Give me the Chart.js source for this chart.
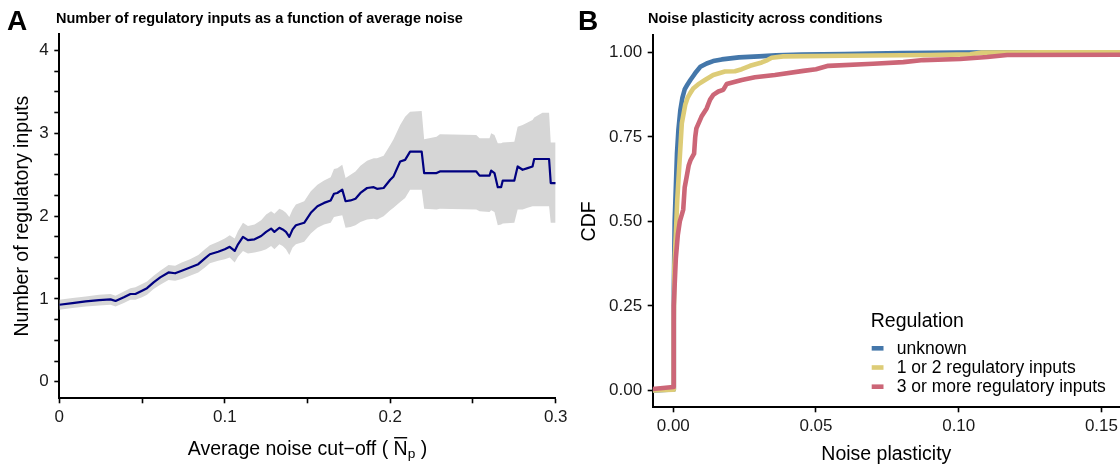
<!DOCTYPE html>
<html><head><meta charset="utf-8">
<script src="https://cdn.jsdelivr.net/npm/chart.js@4.4.1/dist/chart.umd.min.js"></script>
<style>
html,body{margin:0;padding:0;width:1120px;height:464px;overflow:hidden;background:#fff;}
#wrap{position:relative;width:1120px;height:464px;overflow:hidden;}
canvas{position:absolute;top:0;}
#cA{left:0}
#cB{left:570px}
</style></head><body>
<div id="wrap"><canvas id="cA" width="570" height="480"></canvas><canvas id="cB" width="550" height="480"></canvas></div>
<script>
const FONT = '"Liberation Sans", Arial, Helvetica, sans-serif';

// ---------- Panel A data ----------
const titleA = 'Number of regulatory inputs as a function of average noise';
const aCutoff = [0.000,0.008,0.016,0.024,0.031,0.034,0.039,0.043,0.046,0.050,0.053,0.057,0.061,0.066,0.070,0.074,0.079,0.084,0.088,0.091,0.096,0.100,0.103,0.106,0.108,0.111,0.114,0.118,0.122,0.125,0.128,0.130,0.133,0.135,0.137,0.139,0.141,0.143,0.148,0.152,0.156,0.160,0.164,0.166,0.168,0.171,0.173,0.176,0.179,0.182,0.186,0.190,0.192,0.196,0.200,0.202,0.206,0.209,0.212,0.219,0.2205,0.228,0.230,0.252,0.254,0.260,0.261,0.263,0.265,0.267,0.268,0.275,0.277,0.280,0.283,0.286,0.287,0.292,0.296,0.297,0.300];
const aMean   = [0.93,0.95,0.97,0.985,0.995,0.975,1.02,1.06,1.06,1.10,1.13,1.20,1.26,1.32,1.31,1.34,1.38,1.42,1.49,1.54,1.57,1.60,1.63,1.58,1.66,1.75,1.71,1.72,1.76,1.81,1.85,1.81,1.86,1.84,1.81,1.75,1.84,1.89,1.92,2.04,2.12,2.16,2.19,2.27,2.28,2.32,2.18,2.19,2.21,2.28,2.34,2.35,2.33,2.34,2.44,2.48,2.66,2.68,2.78,2.78,2.52,2.52,2.54,2.54,2.49,2.49,2.55,2.52,2.35,2.35,2.43,2.43,2.60,2.56,2.58,2.60,2.69,2.69,2.69,2.40,2.40];
const aLower  = [0.87,0.89,0.91,0.92,0.93,0.91,0.95,0.99,0.99,1.02,1.05,1.12,1.17,1.23,1.22,1.24,1.28,1.32,1.38,1.43,1.46,1.48,1.50,1.44,1.51,1.58,1.55,1.56,1.58,1.60,1.64,1.60,1.66,1.64,1.60,1.53,1.62,1.66,1.69,1.79,1.86,1.90,1.92,1.99,2.00,2.01,1.86,1.87,1.89,1.93,1.96,1.97,1.96,2.00,2.07,2.10,2.17,2.22,2.32,2.32,2.09,2.08,2.09,2.08,2.06,2.05,2.07,2.05,1.89,1.90,1.91,1.92,2.08,2.08,2.10,2.12,2.12,2.12,2.12,1.92,1.92];
const aUpper  = [0.99,1.01,1.03,1.05,1.06,1.04,1.09,1.13,1.14,1.18,1.21,1.28,1.34,1.41,1.40,1.44,1.48,1.53,1.60,1.65,1.69,1.73,1.77,1.73,1.82,1.92,1.88,1.90,1.95,2.02,2.06,2.03,2.09,2.07,2.04,1.99,2.08,2.14,2.18,2.30,2.38,2.43,2.47,2.57,2.58,2.62,2.46,2.50,2.54,2.61,2.67,2.70,2.70,2.73,2.86,2.93,3.10,3.20,3.26,3.27,2.93,2.96,2.99,2.98,2.94,2.94,3.00,2.98,2.88,2.88,2.89,2.90,3.08,3.10,3.13,3.16,3.19,3.25,3.25,2.89,2.89];
const aXTicks = [0,0.05,0.1,0.15,0.2,0.25,0.3];
const aXTickLabels = ['0','','0.1','','0.2','','0.3'];
const aYTicks = [0,0.25,0.5,0.75,1,1.25,1.5,1.75,2,2.25,2.5,2.75,3,3.25,3.5,3.75,4];
const aYTickLabels = ['0','','','','1','','','','2','','','','3','','','','4'];

// ---------- Panel B data ----------
const titleB = 'Noise plasticity across conditions';
const bSeriesNames = ['unknown','1 or 2 regulatory inputs','3 or more regulatory inputs'];
const bUnknownX = [-0.0072,0.0000,0.0002,0.0005,0.0009,0.0013,0.0018,0.0025,0.0032,0.0040,0.0050,0.0060,0.0070,0.0080,0.0095,0.0117,0.0140,0.0170,0.0230,0.0300,0.0360,0.0450,0.0600,0.0800,0.1000,0.1200,0.2000];
const bUnknownY = [0.000,0.003,0.300,0.500,0.600,0.700,0.770,0.830,0.865,0.890,0.905,0.918,0.930,0.942,0.957,0.967,0.974,0.979,0.985,0.988,0.991,0.993,0.995,0.998,0.999,1.000,1.000];
const bOneTwoX = [-0.0072,0.0000,0.0002,0.0004,0.0009,0.0014,0.0021,0.0030,0.0042,0.0050,0.0060,0.0070,0.0087,0.0111,0.0140,0.0181,0.0216,0.0240,0.0269,0.0310,0.0330,0.0345,0.0385,0.0600,0.0900,0.1040,0.1080,0.1300,0.2000];
const bOneTwoY = [0.000,0.002,0.200,0.370,0.460,0.563,0.662,0.790,0.845,0.865,0.880,0.893,0.905,0.918,0.933,0.943,0.944,0.950,0.960,0.970,0.977,0.984,0.988,0.990,0.992,0.994,0.999,1.000,1.000];
const bThreeX = [-0.0072,0.0000,0.0001,0.00025,0.0009,0.0016,0.0023,0.0030,0.0035,0.0040,0.0047,0.0054,0.0061,0.0073,0.0077,0.0081,0.0099,0.0117,0.0129,0.0140,0.0158,0.0175,0.0187,0.0240,0.0286,0.0356,0.0456,0.0500,0.0543,0.0700,0.0806,0.0876,0.1005,0.1100,0.1170,0.2000];
const bThreeY = [0.004,0.010,0.150,0.250,0.390,0.460,0.500,0.520,0.535,0.600,0.632,0.665,0.682,0.700,0.750,0.775,0.810,0.834,0.860,0.874,0.884,0.889,0.906,0.918,0.926,0.933,0.945,0.950,0.960,0.966,0.971,0.977,0.980,0.986,0.992,0.994];
const bColors = ['#4477AA','#DDCC77','#CC6677'];
const bXTicks = [0,0.05,0.1,0.15];
const bXTickLabels = ['0.00','0.05','0.10','0.15'];
const bYTicks = [0,0.25,0.5,0.75,1];
const bYTickLabels = ['0.00','0.25','0.50','0.75','1.00'];

const pts = (xs, ys) => xs.map((x, i) => ({x: x, y: ys[i]}));

function axisCommon(ticks, labels, fitFn) {
  return {
    type: 'linear',
    afterBuildTicks: s => { s.ticks = ticks.map(v => ({value: v})); },
    afterFit: s => { fitFn(s); s.paddingLeft = 0; s.paddingRight = 0; s.paddingTop = 0; s.paddingBottom = 0; },
    grid: {display: true, drawOnChartArea: false, drawTicks: true, tickLength: 5, tickWidth: 1.6, tickColor: '#000'},
    border: {display: true, color: '#000', width: 2},
    ticks: {
      autoSkip: false, maxRotation: 0, minRotation: 0,
      color: '#1a1a1a', font: {family: FONT, size: 17},
      callback: (v, i) => labels[i]
    }
  };
}

// ---------- Chart A ----------
const plugA = {
  id: 'plugA',
  afterDraw(chart) {
    const ctx = chart.ctx;
    ctx.save();
    ctx.fillStyle = '#000';
    ctx.textAlign = 'left';
    ctx.textBaseline = 'alphabetic';
    ctx.font = 'bold 28px ' + FONT;
    ctx.fillText('A', 7, 30);
    ctx.font = 'bold 14.5px ' + FONT;
    ctx.fillText(titleA, 56, 22.7);
    // x axis title with overline N and subscript p
    const fs = 19.5, fsSub = fs * 0.7;
    const p1 = 'Average noise cut\u2212off ( ', pN = 'N', pP = 'p', p3 = ' )';
    ctx.font = fs + 'px ' + FONT;
    const w1 = ctx.measureText(p1).width, wN = ctx.measureText(pN).width, w3 = ctx.measureText(p3).width;
    ctx.font = fsSub + 'px ' + FONT;
    const wP = ctx.measureText(pP).width;
    const total = w1 + wN + wP + w3;
    const cx = (chart.chartArea.left + chart.chartArea.right) / 2;
    let x = cx - total / 2;
    const base = 455;
    ctx.font = fs + 'px ' + FONT;
    ctx.fillText(p1, x, base); x += w1;
    ctx.fillText(pN, x, base);
    ctx.fillRect(x + 0.5, base - fs * 0.716 - 4, wN - 1, 1.4);
    x += wN;
    ctx.font = fsSub + 'px ' + FONT;
    ctx.fillText(pP, x, base + 3); x += wP;
    ctx.font = fs + 'px ' + FONT;
    ctx.fillText(p3, x, base);
    ctx.restore();
  }
};

new Chart(document.getElementById('cA'), {
  type: 'line',
  data: {
    datasets: [
      {data: pts(aCutoff, aMean), borderColor: '#000080', borderWidth: 2.2, pointRadius: 0, fill: false, tension: 0, borderJoinStyle: 'round'},
      {data: pts(aCutoff, aLower), borderWidth: 0, borderColor: 'rgba(0,0,0,0)', pointRadius: 0, fill: false, tension: 0},
      {data: pts(aCutoff, aUpper), borderWidth: 0, borderColor: 'rgba(0,0,0,0)', backgroundColor: '#d6d6d6', pointRadius: 0, fill: '-1', tension: 0}
    ]
  },
  options: {
    responsive: false, animation: false, devicePixelRatio: 1,
    layout: {padding: {left: 0, top: 34, right: 14.3, bottom: 0}},
    plugins: {legend: {display: false}, tooltip: {enabled: false}, title: {display: false}},
    scales: {
      x: Object.assign(axisCommon(aXTicks, aXTickLabels, s => { s.height = 480 - 398.3; }), {min: 0, max: 0.3, ticks: Object.assign(axisCommon(aXTicks, aXTickLabels, ()=>{}).ticks, {padding: 4}), title: {display: false}}),
      y: Object.assign(axisCommon(aYTicks, aYTickLabels, s => { s.width = 59.3; }), {min: -0.2, max: 4.2, ticks: Object.assign(axisCommon(aYTicks, aYTickLabels, ()=>{}).ticks, {padding: 5.5}),
        title: {display: true, text: 'Number of regulatory inputs', color: '#000', font: {family: FONT, size: 19.5}, padding: {top: 10.8, bottom: 0}}})
    }
  },
  plugins: [plugA]
});

// ---------- Chart B ----------
const plugB = {
  id: 'plugB',
  afterDraw(chart) {
    const ctx = chart.ctx;
    ctx.save();
    ctx.fillStyle = '#000';
    ctx.textAlign = 'left';
    ctx.textBaseline = 'alphabetic';
    ctx.font = 'bold 28px ' + FONT;
    ctx.fillText('B', 8, 30);
    ctx.font = 'bold 14.5px ' + FONT;
    ctx.fillText(titleB, 78, 22.7);
    // legend
    ctx.font = '19.5px ' + FONT;
    ctx.fillText('Regulation', 300.7, 326.7);
    const rows = [348.3, 367.5, 386.7];
    ctx.font = '17.5px ' + FONT;
    ctx.textBaseline = 'middle';
    bSeriesNames.forEach((name, i) => {
      ctx.fillStyle = bColors[i];
      ctx.fillRect(301.7, rows[i] - 2.3, 11.8, 4.6);
      ctx.fillStyle = '#000';
      ctx.fillText(name, 326.7, rows[i] + 0.5);
    });
    ctx.restore();
  }
};

const bData = [pts(bUnknownX, bUnknownY), pts(bOneTwoX, bOneTwoY), pts(bThreeX, bThreeY)];
new Chart(document.getElementById('cB'), {
  type: 'line',
  data: {
    datasets: bData.map((d, i) => ({
      label: bSeriesNames[i], data: d, borderColor: bColors[i], borderWidth: 4.6, pointRadius: 0,
      fill: false, tension: 0, borderJoinStyle: 'round', order: 3 - i
    }))
  },
  options: {
    responsive: false, animation: false, devicePixelRatio: 1,
    layout: {padding: {left: 0, top: 35.4, right: 0, bottom: 0}},
    plugins: {legend: {display: false}, tooltip: {enabled: false}, title: {display: false}},
    scales: {
      x: Object.assign(axisCommon(bXTicks, bXTickLabels, s => { s.height = 480 - 407.3; }), {min: -0.0072, max: 0.1565, ticks: Object.assign(axisCommon(bXTicks, bXTickLabels, ()=>{}).ticks, {padding: 4}),
        title: {display: true, text: 'Noise plasticity', color: '#000', font: {family: FONT, size: 19.5}, padding: {top: 0, bottom: 14}}}),
      y: Object.assign(axisCommon(bYTicks, bYTickLabels, s => { s.width = 82.7; }), {min: -0.05, max: 1.05, ticks: Object.assign(axisCommon(bYTicks, bYTickLabels, ()=>{}).ticks, {padding: 5.5}),
        title: {display: true, text: 'CDF', color: '#000', font: {family: FONT, size: 19.5}, padding: {top: 7.8, bottom: 0}}})
    }
  },
  plugins: [plugB]
});
</script>
</body></html>
